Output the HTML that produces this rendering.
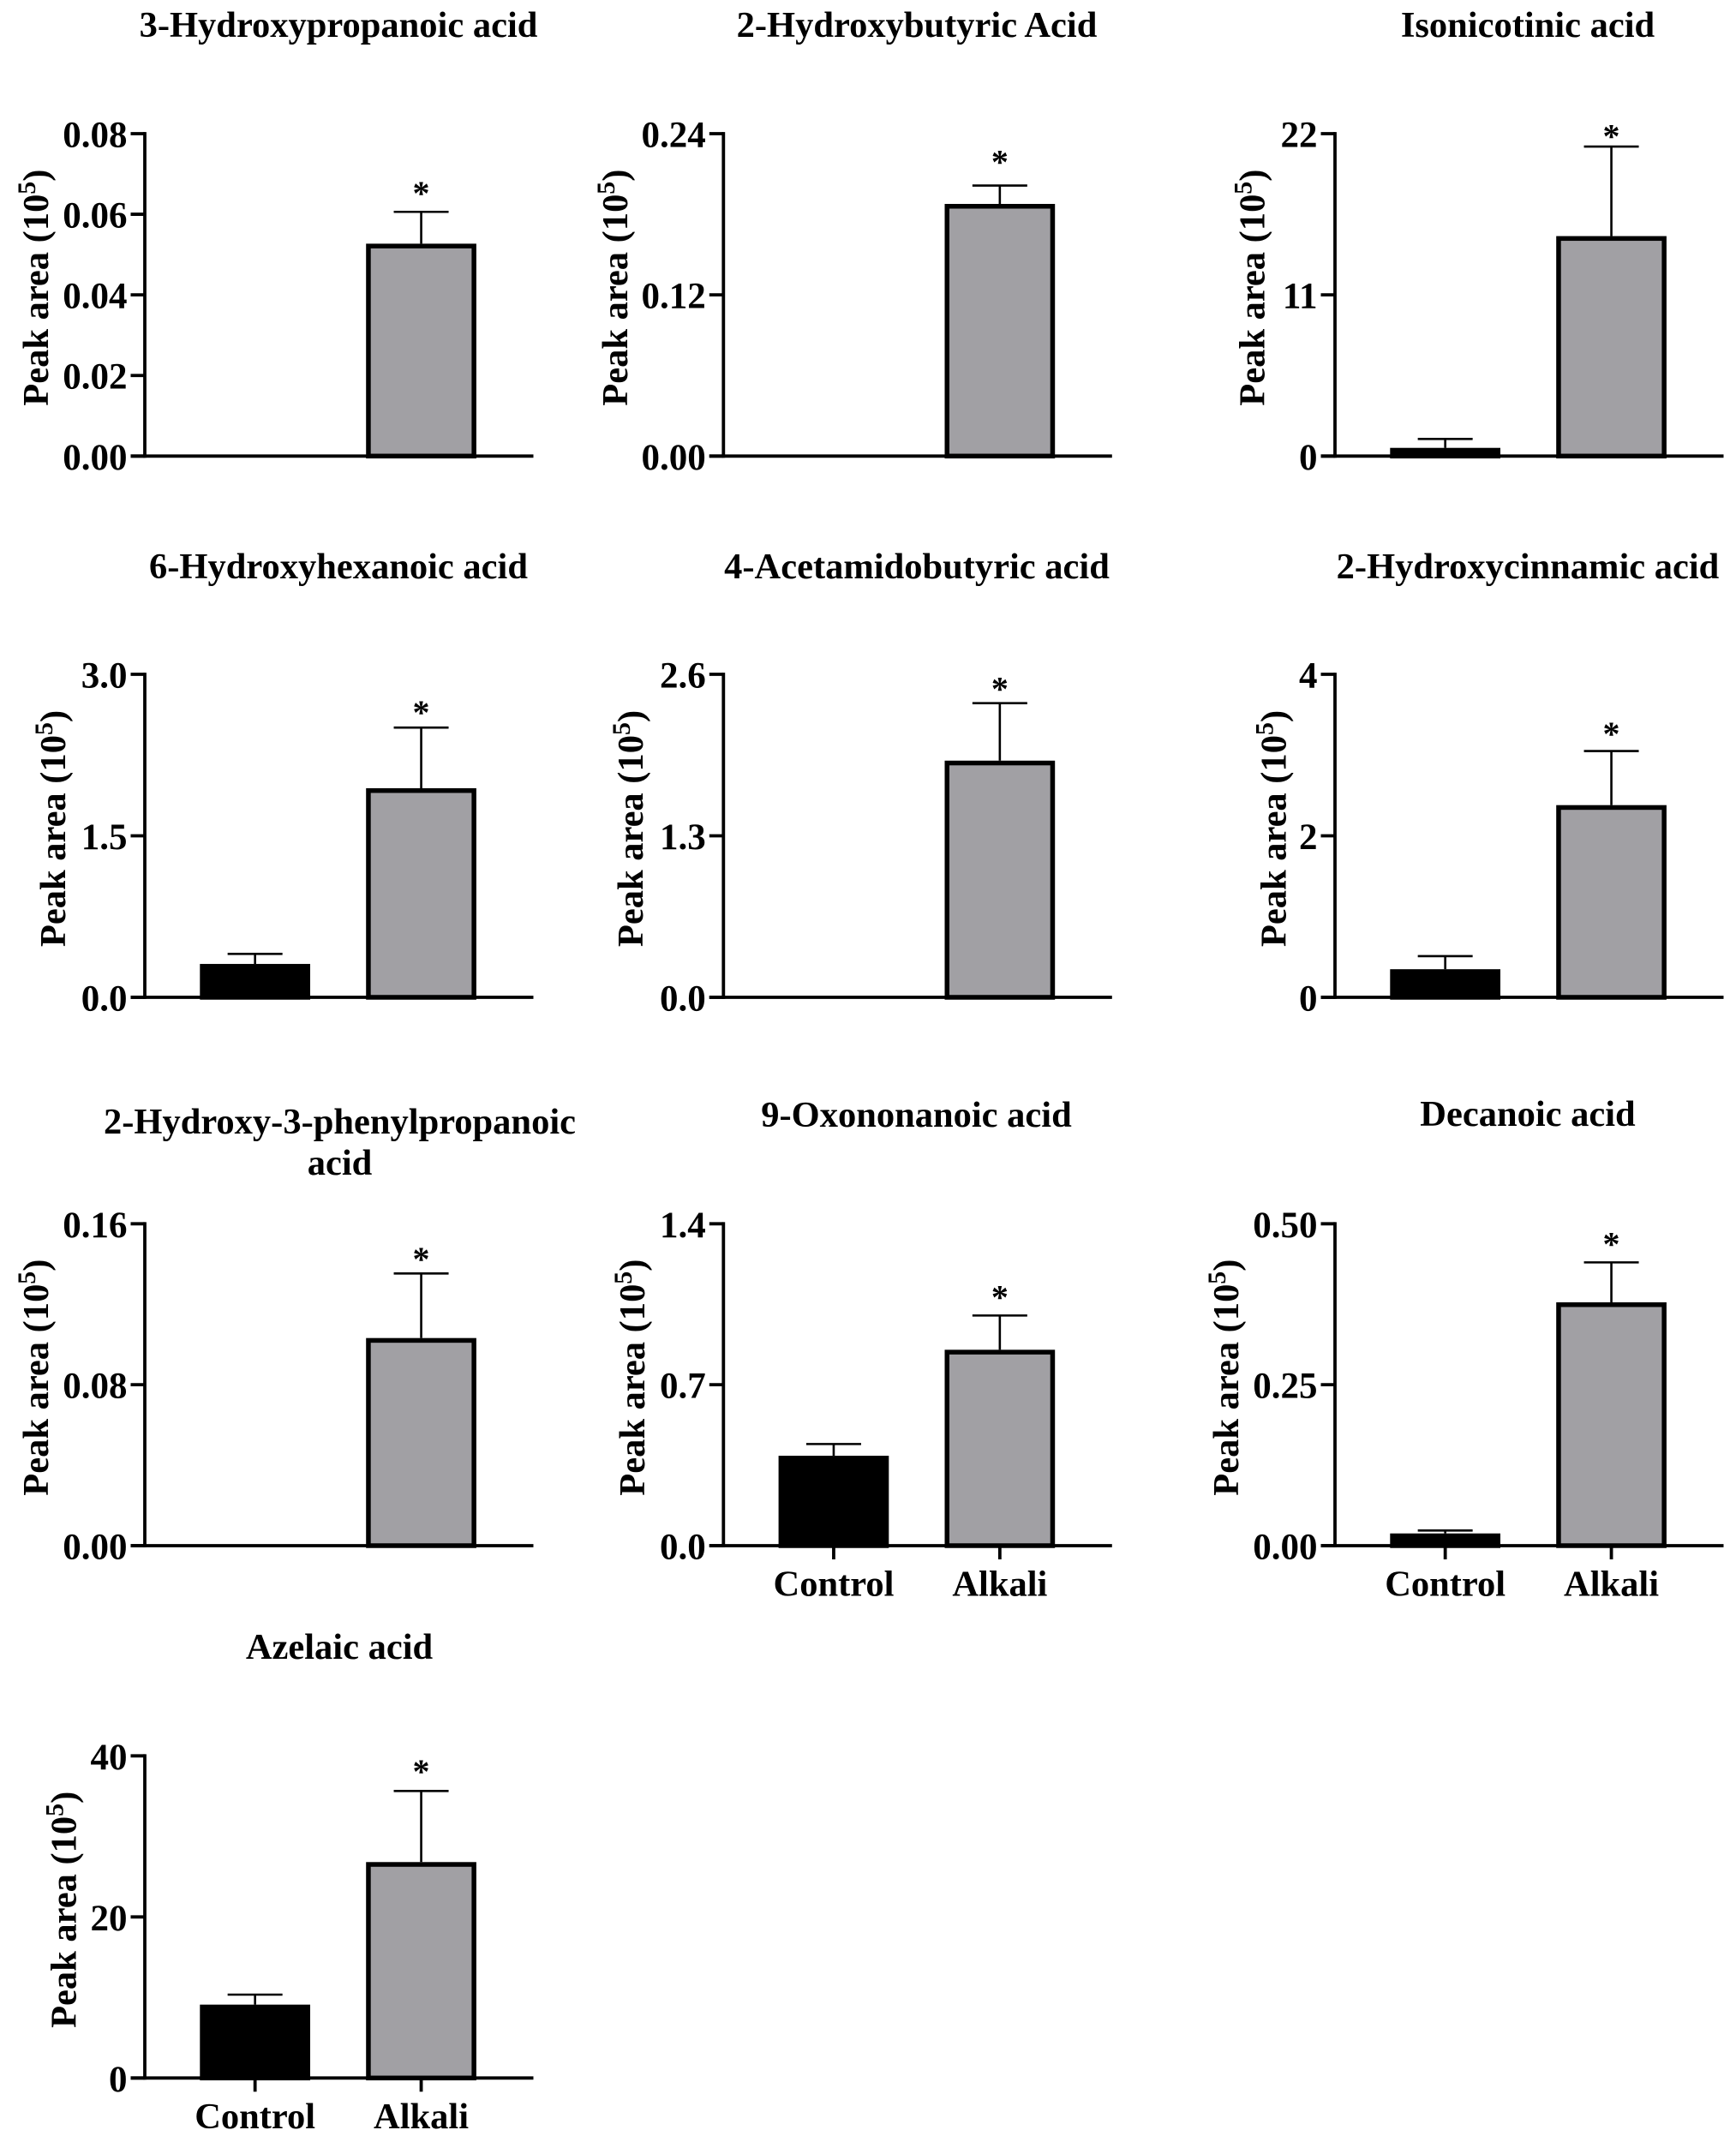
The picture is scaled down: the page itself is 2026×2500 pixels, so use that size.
<!DOCTYPE html>
<html>
<head>
<meta charset="utf-8">
<title>Peak area charts</title>
<style>
html,body{margin:0;padding:0;background:#fff;width:2026px;height:2500px;overflow:hidden}
svg{display:block}
text{font-family:"Liberation Serif",serif;font-weight:bold;fill:#000}
</style>
</head>
<body>
<svg id="figure" xmlns="http://www.w3.org/2000/svg" width="2026" height="2500" viewBox="0 0 2026 2500"></svg>
<script>
// ---- data ----
const panelTitles = [
  ["3-Hydroxypropanoic acid"],
  ["2-Hydroxybutyric Acid"],
  ["Isonicotinic acid"],
  ["6-Hydroxyhexanoic acid"],
  ["4-Acetamidobutyric acid"],
  ["2-Hydroxycinnamic acid"],
  ["2-Hydroxy-3-phenylpropanoic", "acid"],
  ["9-Oxononanoic acid"],
  ["Decanoic acid"],
  ["Azelaic acid"]
];
const categories = ["Control", "Alkali"];
const controlValues = [0, 0, 0.56, 0.310, 0, 0.348, 0, 0.391, 0.019, 9.11];
const controlErrors = [0, 0, 0.61, 0.093, 0, 0.162, 0, 0.051, 0.0045, 1.24];
const alkaliValues = [0.0527, 0.1877, 15.01, 1.942, 1.905, 2.38, 0.1032, 0.852, 0.378, 26.81];
const alkaliErrors = [0.0079, 0.0137, 6.11, 0.563, 0.463, 0.67, 0.0321, 0.149, 0.062, 8.83];
const axisMaxima = [0.08, 0.24, 22, 3.0, 2.6, 4, 0.16, 1.4, 0.50, 40];
const tickValues = [
  [0, 0.02, 0.04, 0.06, 0.08],
  [0, 0.12, 0.24],
  [0, 11, 22],
  [0, 1.5, 3.0],
  [0, 1.3, 2.6],
  [0, 2, 4],
  [0, 0.08, 0.16],
  [0, 0.7, 1.4],
  [0, 0.25, 0.50],
  [0, 20, 40]
];
const tickDecimals = [2, 2, 0, 1, 1, 0, 2, 1, 2, 0];
const significance = ["*", "*", "*", "*", "*", "*", "*", "*", "*", "*"];
const showCategoryAxis = [false, false, false, false, false, false, false, true, true, true];

// ---- layout ----
const layoutAxisX = [169, 844.3, 1558, 169, 844.3, 1558, 169, 844.3, 1558, 169];
const layoutPlotTop = [156, 156, 156, 787, 787, 787, 1428.3, 1428.3, 1428.3, 2049.3];
const layoutPlotBase = [532.3, 532.3, 532.3, 1164, 1164, 1164, 1804, 1804, 1804, 2425.3];
const layoutTitleX = [395, 1070, 1783, 395, 1070, 1783, 396.5, 1069.5, 1783, 396];
const layoutTitleY = [43, 43, 43, 675, 675, 675, 1323, 1315, 1314, 1936];
const layoutYLabelX = [56, 732, 1475.5, 76, 750, 1500.5, 56, 752, 1445, 88.5];
const layoutStarGap = [27.7, 33.4, 18, 23.3, 22.3, 25.5, 22.3, 27, 27, 28.6];
const PLOT_W = 453.5, TICK = 16.5, BAR_W = 128.7, BAR_OFF = [64.3, 258.2], CAP = 64, FS = 42.5, SW = 5.5, AXW = 3.8;

const NS = "http://www.w3.org/2000/svg";
const svg = document.getElementById("figure");
function mk(parent, tag, attrs, txt) {
  const el = document.createElementNS(NS, tag);
  for (const k in attrs) el.setAttribute(k, attrs[k]);
  if (txt !== undefined) el.textContent = txt;
  parent.appendChild(el);
  return el;
}
function line(parent, x1, y1, x2, y2, w) {
  return mk(parent, "line", {x1: x1, y1: y1, x2: x2, y2: y2, stroke: "#000", "stroke-width": w});
}

panelTitles.forEach(function (titleLines, i) {
  const ax = layoutAxisX[i], top = layoutPlotTop[i], base = layoutPlotBase[i], max = axisMaxima[i];
  const yScale = function (v) { return base - (v / max) * (base - top); };

  const g = mk(svg, "g", {});
  
  

  // title
  titleLines.forEach(function (t, k) {
    const el = mk(g, "text", {x: layoutTitleX[i], y: layoutTitleY[i] + k * 48, "text-anchor": "middle", "font-size": FS}, t);
    
    
  });

  // bars and error bars
  [controlValues[i], alkaliValues[i]].forEach(function (v, s) {
    const err = s === 0 ? controlErrors[i] : alkaliErrors[i];
    if (!(v > 0)) return;
    const x = ax + BAR_OFF[s], cx = x + BAR_W / 2, yTop = yScale(v), yErr = yScale(v + err);

    const stem = line(g, cx, yTop, cx, yErr, 2.6);
    
    
    const cap = line(g, cx - CAP / 2, yErr, cx + CAP / 2, yErr, 2.6);
    
    

    const bar = mk(g, "rect", {
      x: x + SW / 2, y: yTop + SW / 2, width: BAR_W - SW, height: Math.max(base - yTop - SW / 2, 0),
      fill: s === 0 ? "#000" : "#a1a0a4", stroke: "#000", "stroke-width": SW
    });
    
    

    if (s === 1) {
      const star = mk(g, "text", {x: cx, y: yErr - layoutStarGap[i] + 19.2, "text-anchor": "middle", "font-size": 40}, significance[i]);
      
      
    }
  });

  // y axis
  const yAxis = line(g, ax, top - AXW / 2, ax, base + AXW / 2, AXW);
  
  
  tickValues[i].forEach(function (tv) {
    const ty = yScale(tv);
    const tk = line(g, ax - TICK, ty, ax, ty, AXW);
    
    
    const lb = mk(g, "text", {x: ax - 20.5, y: ty + 15.5, "text-anchor": "end", "font-size": 43}, tv.toFixed(tickDecimals[i]));
    
    
  });

  // x axis
  const xAxis = line(g, ax - TICK, base, ax + PLOT_W, base, AXW);
  
  

  if (showCategoryAxis[i]) {
    categories.forEach(function (c, s) {
      const cx = ax + BAR_OFF[s] + BAR_W / 2;
      const tk = line(g, cx, base, cx, base + 16, AXW);
      
      
      const lb = mk(g, "text", {x: cx, y: base + 58.5, "text-anchor": "middle", "font-size": FS}, c);
      
      
    });
  }

  // y axis title
  const lx = layoutYLabelX[i], ly = (top + base) / 2 - 8.5;
  const yt = mk(g, "text", {x: 0, y: 0, "text-anchor": "middle", "font-size": FS, transform: "translate(" + lx + "," + ly + ") rotate(-90)"});
  
  
  mk(yt, "tspan", {}, "Peak area (10");
  mk(yt, "tspan", {dy: -15, "font-size": 30}, "5");
  mk(yt, "tspan", {dy: 15}, ")");
});
</script>
</body>
</html>
